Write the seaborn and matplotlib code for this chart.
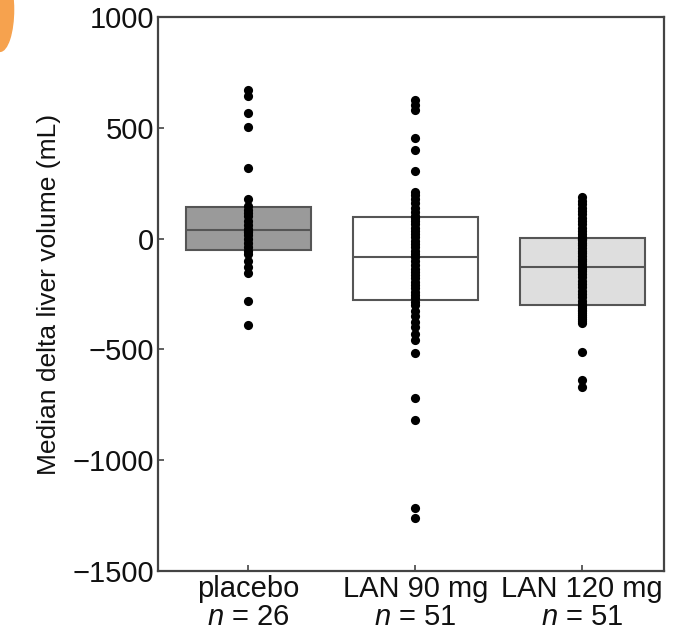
import numpy as np
import pandas as pd
import seaborn as sns
import matplotlib.pyplot as plt
from matplotlib.patches import Ellipse

# values (mL)
placebo = [-390, -280, -155, -130, -100, -70, -55, -40, -20, 0, 15, 30, 35,
           43, 60, 80, 100, 115, 130, 147, 180, 318, 503, 566, 645, 670]
lan90 = [-1262, -1215, -818, -720, -517,
         -458, -430, -400, -375, -350, -325, -300, -285, -270, -255,
         -240, -225, -210, -195, -180, -165, -150, -135, -120, -100,
         -83, -70, -55, -40, -25, -10, 5, 20, 35, 50, 65, 80, 92, 102,
         120, 140, 160, 180, 195, 210, 305, 400, 453, 580, 605, 625]
lan120 = [-670, -640, -512,
          -382, -372, -362, -352, -344, -336, -328, -320, -313, -303,
          -295, -280, -265, -250, -235, -220, -205, -190, -175, -160,
          -148, -138, -128, -115, -103, -91, -79, -67, -55, -43, -31,
          -19, -8, -2, 0, 6, 20, 35, 50, 65, 80, 95, 110, 125, 140,
          155, 170, 187]

groups = ["placebo", "LAN 90 mg", "LAN 120 mg"]
tick_labels = ["placebo\n$n$ = 26", "LAN 90 mg\n$n$ = 51", "LAN 120 mg\n$n$ = 51"]
box_colors = ["#9a9a9a", "#ffffff", "#dedede"]

df = pd.DataFrame({
    "group": ["placebo"] * len(placebo) + ["LAN 90 mg"] * len(lan90)
             + ["LAN 120 mg"] * len(lan120),
    "value": placebo + lan90 + lan120,
})

sns.set_theme(style="ticks")
plt.rcParams["font.family"] = ["Liberation Sans", "DejaVu Sans"]
plt.rcParams["mathtext.fontset"] = "custom"
plt.rcParams["mathtext.it"] = "Liberation Sans:italic"
plt.rcParams["mathtext.rm"] = "Liberation Sans"
plt.rcParams["text.color"] = "#111111"
plt.rcParams["axes.labelcolor"] = "#111111"
plt.rcParams["xtick.labelcolor"] = "#111111"
plt.rcParams["ytick.labelcolor"] = "#111111"

fig = plt.figure(figsize=(6.79, 6.42), dpi=100)
ax = fig.add_axes([0.2327, 0.1106, 0.7453, 0.8629])

sns.boxplot(data=df, x="group", y="value", hue="group", order=groups,
            hue_order=groups, palette=box_colors, legend=False, width=0.75,
            linecolor="#555555", linewidth=1.5, whis=0, showcaps=False,
            showfliers=False, whiskerprops={"linewidth": 0}, ax=ax)
sns.stripplot(data=df, x="group", y="value", order=groups, jitter=False,
              color="black", size=6.6, linewidth=0, ax=ax)

ax.set_xlim(-0.54, 2.49)
ax.set_ylim(-1500, 1000)
ax.set_yticks([-1500, -1000, -500, 0, 500, 1000])
ax.set_yticklabels(["\u22121500", "\u22121000", "\u2212500", "0", "500", "1000"])
ax.set_xticks([0, 1, 2])
ax.set_xticklabels(tick_labels, linespacing=1.0)
ax.set_xlabel("")
ax.set_ylabel("Median delta liver volume (mL)", fontsize=19, labelpad=8)
ax.tick_params(axis="both", direction="in", length=4, width=1.2,
               color="#444444", labelsize=21, pad=3)

for s in ax.spines.values():
    s.set_visible(True)
    s.set_color("#444444")
    s.set_linewidth(1.6)

# orange corner mark seen in the source image
fig.patches.append(Ellipse((0.0, 0.985), 0.04, 0.13, transform=fig.transFigure,
                           color="#f6a24e", zorder=0))

fig.savefig("out.png", dpi=100)
